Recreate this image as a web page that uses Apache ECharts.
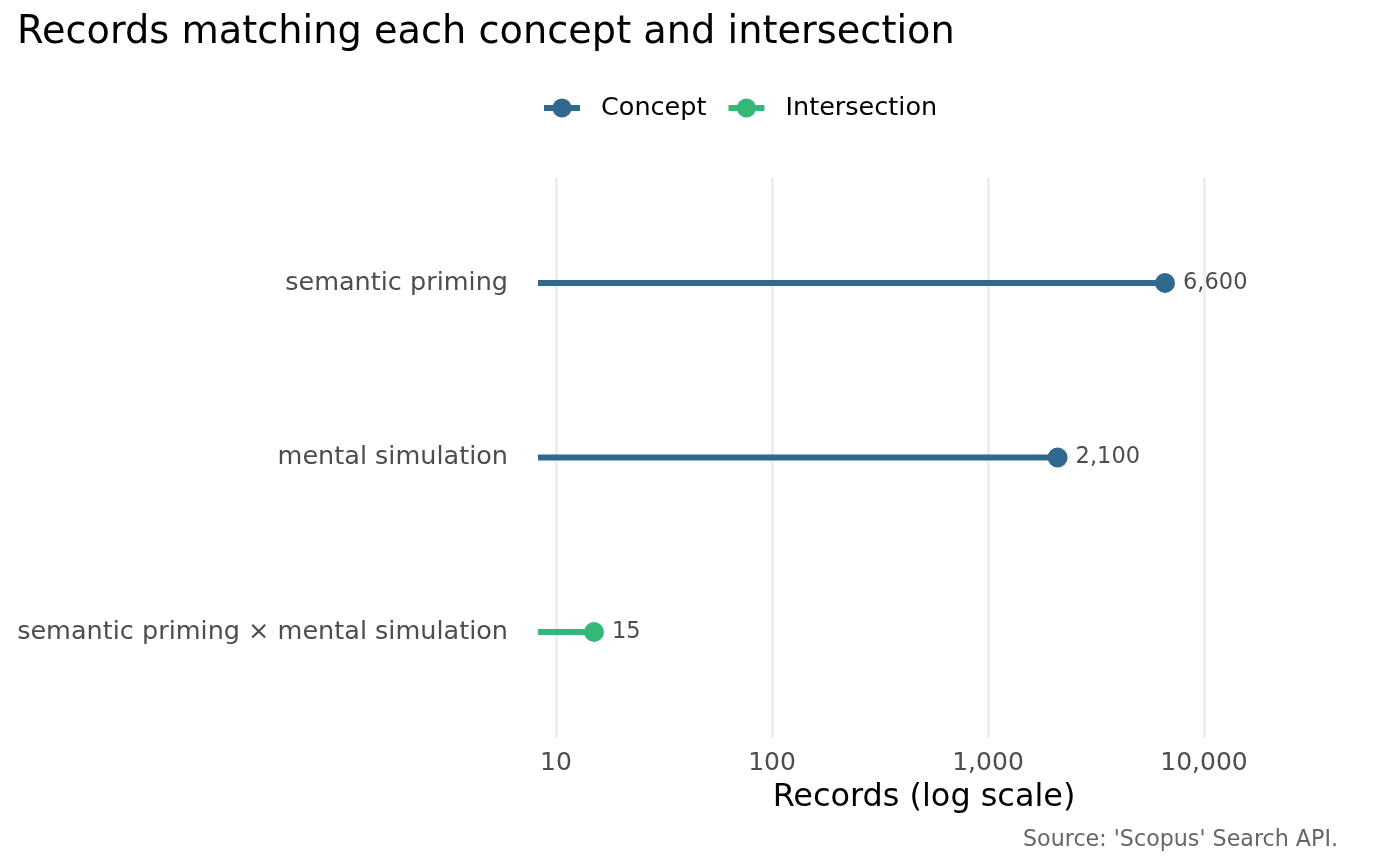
<!DOCTYPE html>
<html>
<head>
<meta charset="utf-8">
<script src="https://cdn.jsdelivr.net/npm/echarts@6/dist/echarts.min.js"></script>
<style>
html,body{margin:0;padding:0;background:#fff;}
#chart{width:1400px;height:866px;}
</style>
</head>
<body>
<div id="chart"></div>
<script>
// Data (rows listed bottom to top)
const categories = ['semantic priming × mental simulation', 'mental simulation', 'semantic priming'];
const groups = ['Intersection', 'Concept', 'Concept'];
const records = [15, 2100, 6600];
const legendItems = ['Concept', 'Intersection'];
const groupColors = { 'Concept': '#31688E', 'Intersection': '#35B779' };

const AXIS_MIN = Math.pow(10, 0.9167);
const AXIS_MAX = Math.pow(10, 4.4907);
const FONT = 'DejaVu Sans';
const fmt = v => Math.round(v).toLocaleString('en-US');

const series = categories.map((cat, i) => ({
  type: 'line',
  name: groups[i],
  xAxisIndex: 1,
  yAxisIndex: 1,
  color: groupColors[groups[i]],
  symbol: 'circle',
  symbolSize: 20,
  lineStyle: { width: 6, color: groupColors[groups[i]] },
  itemStyle: { color: groupColors[groups[i]] },
  silent: true,
  data: [
    { value: [AXIS_MIN, cat], symbol: 'none' },
    {
      value: [records[i], cat],
      label: {
        show: true, position: 'right', distance: 8,
        formatter: p => fmt(p.value[0]),
        fontFamily: FONT, fontSize: 22.5, color: '#4D4D4D'
      }
    }
  ]
}));

const chart = echarts.init(document.getElementById('chart'));
chart.setOption({
  animation: false,
  backgroundColor: '#fff',
  title: [
    { text: 'Records matching each concept and intersection', left: 17, top: 14, padding: 0,
      textStyle: { fontFamily: FONT, fontSize: 38.3, fontWeight: 'normal', color: '#000' } },
    { text: "Source: 'Scopus' Search API.", right: 62, top: 829, padding: 0,
      textStyle: { fontFamily: FONT, fontSize: 22.2, fontWeight: 'normal', color: '#666666' } }
  ],
  legend: {
    data: legendItems,
    left: 541, top: 95, padding: 0,
    itemWidth: 36, itemHeight: 24, itemGap: 19,
    lineStyle: { width: 6 },
    textStyle: { fontFamily: FONT, fontSize: 25.5, color: '#000', padding: [0, 0, 0, 16] },
    selectedMode: false
  },
  grid: [
    { left: 538, right: 90, top: 178, bottom: 128 },
    { left: 538, right: 90, top: 195.75, height: 523.5 }
  ],
  xAxis: [
    {
      gridIndex: 0, type: 'log', logBase: 10, min: AXIS_MIN, max: AXIS_MAX,
      axisLine: { show: false }, axisTick: { show: false },
      splitLine: { show: true, showMinLine: false, showMaxLine: false,
        lineStyle: { color: '#EBEBEB', width: 2.5 } },
      axisLabel: { showMinLabel: false, showMaxLabel: false, formatter: fmt,
        fontFamily: FONT, fontSize: 25, color: '#4D4D4D', margin: 13 },
      name: 'Records (log scale)', nameLocation: 'middle', nameGap: 44,
      nameTextStyle: { fontFamily: FONT, fontSize: 31.9, color: '#000' }
    },
    {
      gridIndex: 1, type: 'log', logBase: 10, min: AXIS_MIN, max: AXIS_MAX, show: false,
      splitLine: { show: false }
    }
  ],
  yAxis: [
    { gridIndex: 0, type: 'value', show: false, splitLine: { show: false } },
    {
      gridIndex: 1, type: 'category', data: categories,
      axisLine: { show: false }, axisTick: { show: false }, splitLine: { show: false },
      axisLabel: { fontFamily: FONT, fontSize: 25.5, color: '#4D4D4D', margin: 30 }
    }
  ],
  series: series
});
</script>
</body>
</html>
